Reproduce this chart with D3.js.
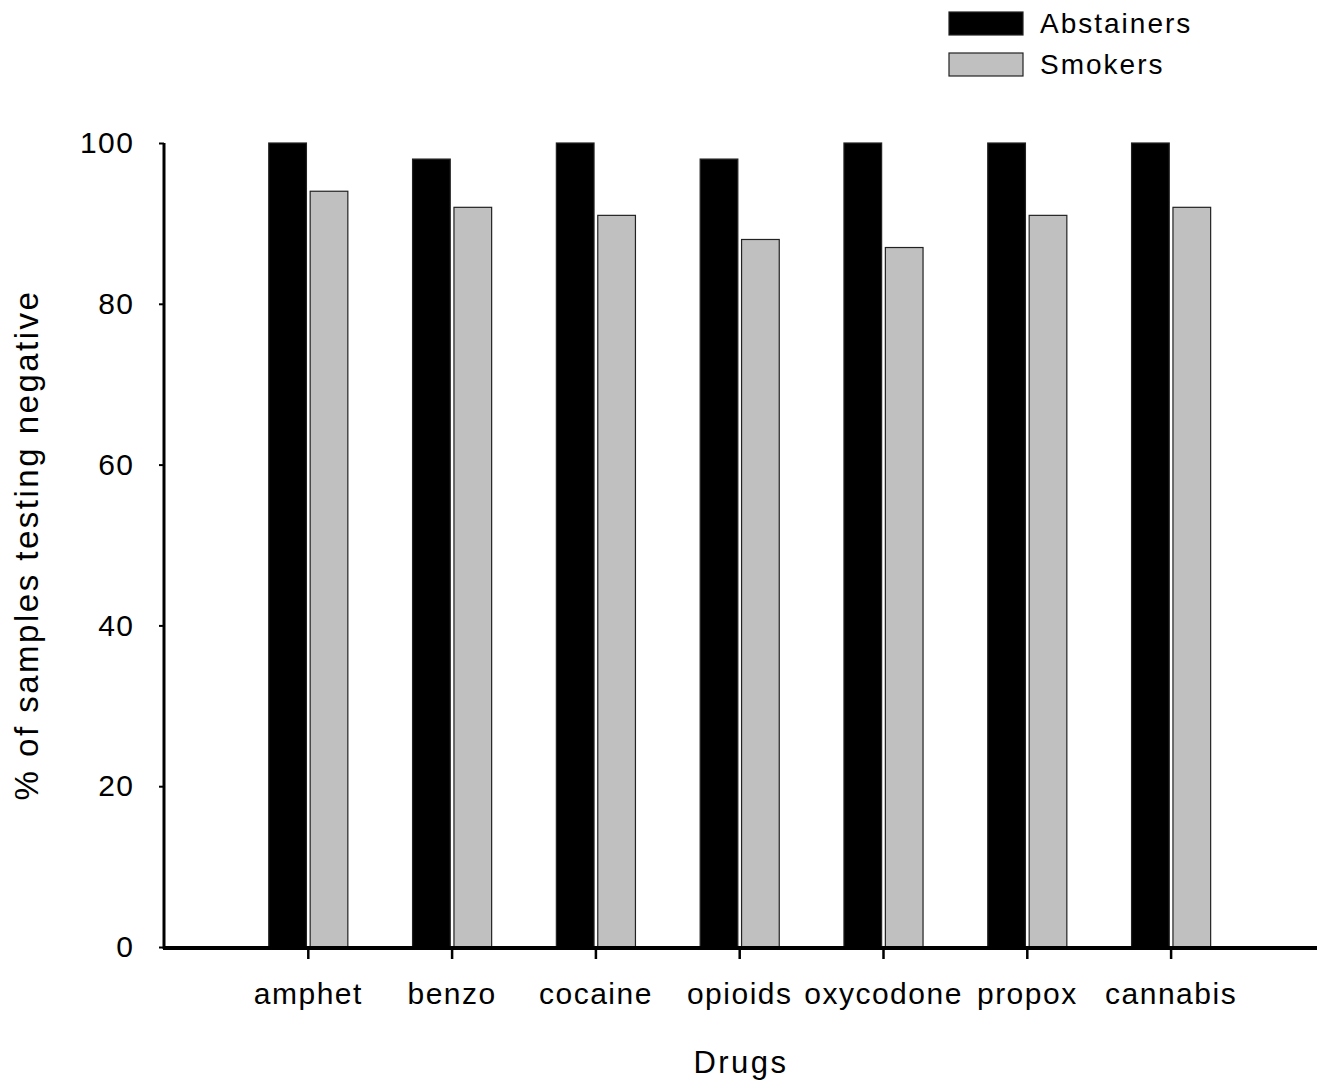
<!DOCTYPE html>
<html><head><meta charset="utf-8">
<script src="https://cdn.jsdelivr.net/npm/d3@7"></script>
<style>body{margin:0;background:#fff}svg{display:block}text{font-family:"Liberation Sans",Arial,sans-serif;fill:#000}</style>
</head><body>
<svg id="c" width="1325" height="1084"></svg>
<script>
const categories = ["amphet","benzo","cocaine","opioids","oxycodone","propox","cannabis"];
const seriesNames = ["Abstainers","Smokers"];
const abstainers = [100,98,100,98,100,100,100];
const smokers = [94,92,91,88,87,91,92];
const yTicks = [0,20,40,60,80,100];
const colors = ["#000000","#c0c0c0"];

const svg = d3.select("#c");
const y = d3.scaleLinear().domain([0,100]).range([947,143]);
const x0 = d3.scaleBand().domain(categories).range([236.4,1243]).paddingInner(0.45).paddingOuter(0.225);
const x1 = d3.scaleBand().domain(seriesNames).range([0,x0.bandwidth()]).paddingInner(0.09);
const vals = [abstainers, smokers];

// bars
seriesNames.forEach((s,si)=>{
  svg.append("g").selectAll("rect").data(categories).join("rect")
    .attr("x",(c)=>x0(c)+x1(s))
    .attr("width",x1.bandwidth())
    .attr("y",(c,i)=>y(vals[si][i]))
    .attr("height",(c,i)=>y(0)-y(vals[si][i]))
    .attr("fill",colors[si])
    .attr("stroke","#222").attr("stroke-width",1.2);
});

const FF = "Liberation Sans, Arial, sans-serif";
// y axis
const ya = svg.append("g").attr("transform","translate(164,0)")
  .call(d3.axisLeft(y).tickValues(yTicks).tickSize(5).tickPadding(26));
ya.select(".domain").attr("stroke","#000").attr("stroke-width",3).attr("d","M0,"+y(100)+"V"+(y(0)+2));
ya.selectAll(".tick line").attr("stroke","#000").attr("stroke-width",2);
ya.selectAll(".tick text").attr("font-size",30).attr("letter-spacing","1.5px").attr("dx","1.5").attr("font-family",FF).attr("fill","#000");

// x axis
const xa = svg.append("g").attr("transform","translate(0,948)")
  .call(d3.axisBottom(x0).tickSize(11).tickPadding(24));
xa.select(".domain").attr("stroke","#000").attr("stroke-width",4).attr("d","M163,0H1317");
xa.selectAll(".tick line").attr("stroke","#000").attr("stroke-width",2.5);
xa.selectAll(".tick text").attr("font-size",30).attr("letter-spacing","1.5px").attr("font-family",FF).attr("fill","#000");

// axis titles
svg.append("text").attr("x",741).attr("y",1073).attr("text-anchor","middle").attr("font-size",31).attr("letter-spacing","2.5px").text("Drugs");
svg.append("text").attr("transform","translate(38,545) rotate(-90)").attr("text-anchor","middle").attr("font-size",33).attr("letter-spacing","2.5px").text("% of samples testing negative");

// legend
const lg = svg.append("g");
seriesNames.forEach((s,i)=>{
  lg.append("rect").attr("x",949).attr("y",12+i*41).attr("width",74).attr("height",23)
    .attr("fill",colors[i]).attr("stroke","#222").attr("stroke-width",1.2);
  lg.append("text").attr("x",1040).attr("y",33+i*41).attr("font-size",28).attr("letter-spacing","2px").text(s);
});
</script>
</body></html>
